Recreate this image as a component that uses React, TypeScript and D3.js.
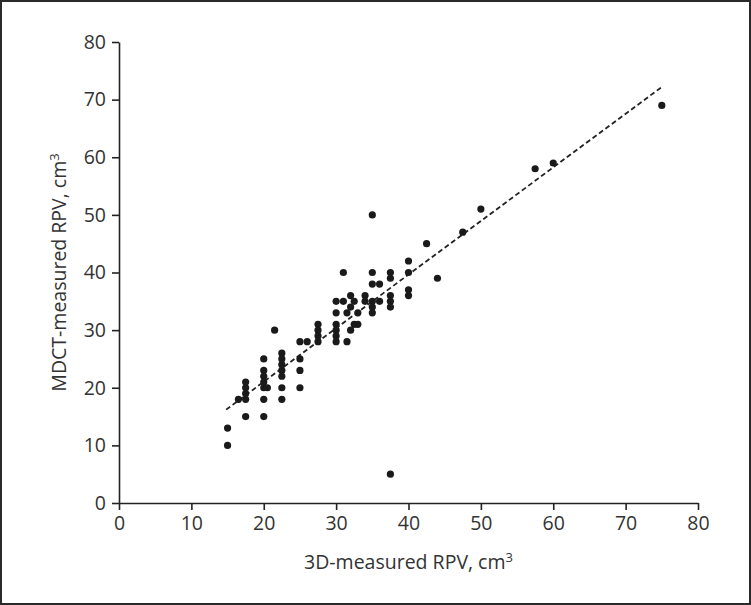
import * as d3 from "d3";
import { useEffect, useRef } from "react";

// 3D-measured RPV (x) vs MDCT-measured RPV (y), cm3
const xValues: number[] = [
    15, 15, 16.5,
    17.5, 17.5, 17.5, 17.5, 17.5,
    20, 20, 20, 20, 20, 20, 20, 20.5, 21.5,
    22.5, 22.5, 22.5, 22.5, 22.5, 22.5, 22.5,
    25, 25, 25, 25, 26,
    27.5, 27.5, 27.5, 27.5,
    30, 30, 30, 30, 30, 30,
    31, 31, 31.5, 31.5,
    32, 32, 32, 32.5, 32.5, 33, 33,
    34, 34,
    35, 35, 35, 35, 35, 35,
    36, 36,
    37.5, 37.5, 37.5, 37.5, 37.5, 37.5,
    40, 40, 40, 40,
    42.5, 44, 47.5, 50, 57.5, 60, 75,
];
const yValues: number[] = [
    13, 10, 18,
    21, 20, 19, 18, 15,
    25, 23, 22, 21, 20, 18, 15, 20, 30,
    26, 25, 24, 23, 22, 20, 18,
    28, 25, 23, 20, 28,
    31, 30, 29, 28,
    35, 33, 31, 30, 29, 28,
    40, 35, 33, 28,
    36, 34, 30, 35, 31, 33, 31,
    36, 35,
    50, 40, 38, 35, 34, 33,
    38, 35,
    40, 39, 36, 35, 34, 5,
    42, 40, 37, 36,
    45, 39, 47, 51, 58, 59, 69,
];
const xTicks: number[] = [0, 10, 20, 30, 40, 50, 60, 70, 80];
const yTicks: number[] = [0, 10, 20, 30, 40, 50, 60, 70, 80];
const fitLine: [number, number][] = [[14.8, 16.2], [75, 72.2]];

export default function App() {
    const ref = useRef<SVGSVGElement | null>(null);

    useEffect(() => {
        document.body.style.margin = "0";
        if (!ref.current) return;

        const width = 751;
        const height = 605;
        const margin = { top: 42, right: 53, bottom: 102, left: 119 };

        const svg = d3.select(ref.current);
        svg.selectAll("*").remove();

        svg.append("rect")
            .attr("x", 1)
            .attr("y", 1)
            .attr("width", width - 2)
            .attr("height", height - 2)
            .attr("fill", "#fff")
            .attr("stroke", "#2a2a2a")
            .attr("stroke-width", 2);

        const x = d3.scaleLinear()
            .domain([0, 80])
            .range([margin.left, width - margin.right]);

        const y = d3.scaleLinear()
            .domain([0, 80])
            .range([height - margin.bottom, margin.top]);

        const font = "'Open Sans', sans-serif";
        const fs = "19.5px";

        // Axes
        const gx = svg.append("g")
            .attr("transform", `translate(0,${y(0)})`)
            .call(d3.axisBottom(x).tickValues(xTicks).tickSize(7).tickPadding(6).tickSizeOuter(0));
        gx.attr("font-size", null).attr("font-family", null);
        gx.selectAll("text").style("font-size", fs).style("font-family", font).attr("fill", "#333");

        const gy = svg.append("g")
            .attr("transform", `translate(${x(0)},0)`)
            .call(d3.axisLeft(y).tickValues(yTicks).tickSize(7).tickPadding(6).tickSizeOuter(0));
        gy.attr("font-size", null).attr("font-family", null);
        gy.selectAll("text").style("font-size", fs).style("font-family", font).attr("fill", "#333");

        svg.selectAll(".domain, .tick line").attr("stroke", "#222").attr("stroke-width", 1.6);

        // Axis titles
        const xt = svg.append("text")
            .attr("x", (x(0) + x(80)) / 2)
            .attr("y", 569)
            .attr("text-anchor", "middle")
            .style("font-size", fs)
            .style("font-family", font)
            .attr("fill", "#333");
        xt.append("tspan").text("3D-measured RPV, cm");
        xt.append("tspan").attr("dy", -7).style("font-size", "13px").text("3");

        const yt = svg.append("text")
            .attr("transform", `translate(66,${(y(0) + y(80)) / 2}) rotate(-90)`)
            .attr("text-anchor", "middle")
            .style("font-size", fs)
            .style("font-family", font)
            .attr("fill", "#333");
        yt.append("tspan").text("MDCT-measured RPV, cm");
        yt.append("tspan").attr("dy", -7).style("font-size", "13px").text("3");

        // Regression line
        svg.append("path")
            .datum(fitLine)
            .attr("d", d3.line<[number, number]>().x((d) => x(d[0])).y((d) => y(d[1])))
            .attr("fill", "none")
            .attr("stroke", "#222")
            .attr("stroke-width", 1.8)
            .attr("stroke-dasharray", "5,3");

        // Points
        svg.append("g")
            .selectAll("circle")
            .data(xValues.map((v, i) => [v, yValues[i]]))
            .join("circle")
            .attr("cx", (d) => x(d[0]))
            .attr("cy", (d) => y(d[1]))
            .attr("r", 3.6)
            .attr("fill", "#1a1a1a");
    }, []);

    return <svg ref={ref} width={751} height={605} style={{ display: "block" }}></svg>;
}
